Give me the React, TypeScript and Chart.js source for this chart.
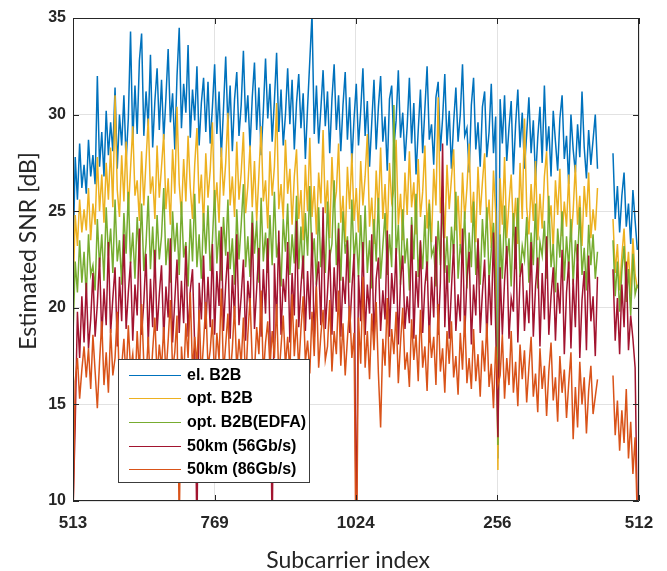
import React, { useEffect, useRef } from 'react';
import { Chart, registerables } from 'chart.js';

Chart.register(...registerables);

// x axis: positions of the tick marks along the plotted subcarrier order and their labels
const tickPositions = [0, 256, 511, 767, 1023];
const tickLabels = ['513', '769', '1024', '256', '512'];
const yTicks = [10, 15, 20, 25, 30, 35];
// one sample every 4 subcarriers along the plotted order
const sampleStep = 4;

const seriesNames = ['el. B2B', 'opt. B2B', 'opt. B2B(EDFA)', '50km (56Gb/s)', '50km (86Gb/s)'];
const seriesColors = ['#0072BD', '#EDB120', '#77AC30', '#A2142F', '#D95319'];

const elB2B = [
  22.3, 27.8, 25.6, 28.5, 26.2, 27.4, 25.9, 28.7, 26.8, 27.9, 26.4,
  32.0, 27.3, 29.1, 26.8, 30.2, 27.9, 29.6, 28.1, 31.4, 27.2, 30.0, 28.4, 31.0, 27.6, 29.8,
  34.3, 28.6, 31.5, 29.0, 32.8, 34.2, 28.9, 31.2, 29.4, 33.1, 28.3, 30.7, 32.4, 29.2, 31.8,
  28.7, 30.9, 33.4, 29.6, 31.1, 28.2, 32.0, 34.5, 29.3, 31.6, 30.1, 33.6, 28.8, 31.3, 29.7,
  32.5, 28.4, 30.6, 31.9, 29.1,
  31.7, 28.5, 30.4, 32.6, 29.0, 31.2, 27.8, 30.3, 33.0, 29.4, 31.5, 28.1, 30.8, 32.2, 28.9,
  30.5, 33.3, 29.6, 31.0, 28.3, 30.9, 32.7, 29.2, 31.4, 27.9, 30.2, 32.9, 29.8, 31.6, 28.6,
  30.7, 33.2, 29.1, 31.3, 28.4, 30.0, 32.4, 29.5, 31.8, 28.2, 30.6, 32.1, 29.3, 31.1, 27.7,
  30.4, 32.8, 35.2, 29.0, 31.5, 28.5, 30.3, 32.3, 29.4, 31.2, 28.0, 30.8, 32.6, 29.2, 31.0,
  28.1, 30.5, 32.2, 28.7, 30.9, 27.5, 29.8, 31.6, 28.4, 30.2, 32.4, 28.9, 30.7, 27.3, 29.6,
  31.8, 28.2, 30.4, 32.0, 28.6, 29.9, 27.1, 30.8, 31.5, 28.3, 29.7, 32.3, 28.8, 30.1, 27.6,
  29.4, 31.9, 28.5, 30.6, 26.9, 29.2, 31.3, 28.0, 30.3, 32.5, 28.7, 29.5, 27.4, 30.9, 31.7,
  28.1, 29.8, 32.1, 28.4, 30.2, 27.2, 29.6, 31.4, 28.6, 30.0, 32.6, 28.9, 29.3, 27.0, 30.5,
  31.9, 28.2, 29.6, 27.3, 30.4, 31.2, 27.8, 29.1, 31.6, 28.0, 29.9, 12.2, 30.8, 28.5, 31.0,
  27.6, 29.3, 30.7, 26.9, 29.5, 31.3, 28.3, 30.1, 27.2, 29.0, 30.9, 28.0, 29.7, 26.6, 28.8,
  30.4, 27.5, 31.5, 28.1, 29.4, 26.8, 30.2, 28.6, 27.1, 29.8, 31.0, 27.7, 28.9, 26.4, 30.0,
  28.2, 27.0, 29.5, 27.8, 31.2, 28.3, 26.7, 29.2, 27.4, 28.7, 30.0, 27.2,
  null, null, null, null, null, null,
  28.0, 24.6, 26.3, 23.9, 25.8, 27.0, 24.2, 25.4, 23.3, 26.1, 24.5, 23.0,
];

const optB2B = [
  20.5, 24.8, 23.2, 25.6, 23.9, 25.1, 24.0, 26.2, 23.5, 25.4, 24.3,
  27.8, 25.0, 26.9, 24.4, 27.5, 25.6, 28.3, 25.2, 31.0, 26.1, 24.7, 27.9, 25.5, 28.6, 24.9,
  27.2, 29.4, 25.8, 26.6, 24.5, 28.1, 25.3, 27.6, 29.8, 25.9, 26.8, 24.6, 28.4, 25.7, 27.3,
  29.0, 25.1, 26.7, 24.3, 28.2, 25.9, 30.4, 26.4, 24.8, 27.7, 25.5, 28.9, 26.2, 24.6, 27.4,
  29.3, 25.4, 26.9, 24.2, 28.0, 25.7, 27.1, 29.6, 25.0, 26.5, 24.4, 28.3, 25.8, 27.5, 30.1,
  25.3, 26.8, 24.7, 28.6, 25.6, 27.0, 29.1, 24.9, 26.3, 28.4, 25.2, 27.6, 24.5, 26.9, 29.4,
  25.5, 26.6, 24.1, 28.1, 25.8, 27.3, 30.6, 25.1, 26.4, 24.6, 28.7, 25.9, 27.2, 24.3, 26.8,
  28.2, 24.6, 26.1, 23.5, 27.4, 25.0, 28.8, 24.7, 26.3, 23.8, 27.0, 25.4, 29.2, 24.9, 26.6,
  23.6, 27.8, 25.2, 26.0, 28.5, 24.4, 25.8, 23.4, 27.3, 25.1, 28.0, 24.5, 26.2, 23.9, 27.6,
  25.3, 26.8, 29.0, 24.2, 25.7, 23.3, 27.1, 25.0, 28.3, 24.6, 26.4, 23.7, 27.5, 25.5, 26.1,
  28.7, 24.3, 25.9, 23.5, 27.0, 24.8, 28.1, 25.2, 26.5, 23.8, 27.7, 24.7, 26.0, 28.4, 24.1,
  25.6, 23.4, 27.2, 25.3, 30.9, 24.9, 26.3, 23.6, 27.4, 25.1, 26.7, 28.2, 24.0, 25.8, 23.2,
  27.0, 24.6, 26.2, 28.5, 24.4,
  26.0, 23.4, 27.3, 24.8, 26.5, 28.0, 24.2, 25.6, 23.1, 27.1, 24.9, 11.6, 26.7, 24.3, 27.8,
  23.6, 25.4, 26.9, 24.0, 25.7, 23.3, 27.5, 24.6, 29.8, 25.2, 23.8, 26.4, 24.5, 27.6, 23.5,
  25.9, 24.1, 26.8, 28.1, 24.4, 25.3, 23.0, 26.6, 24.8, 27.2, 23.7, 25.5, 24.2, 26.9, 23.4,
  25.0, 27.4, 24.3, 25.8, 23.2, 26.3, 24.7, 27.0, 23.6, 25.1, 24.0, 26.2,
  null, null, null, null, null, null,
  24.6, 21.8, 23.3, 20.9, 22.7, 24.1, 21.4, 22.9, 20.6, 23.6, 21.7, 21.0,
];

const optB2BEdfa = [
  18.5, 22.4, 20.8, 23.5, 21.3, 22.9, 20.6, 23.8, 21.7, 22.2, 20.9,
  24.6, 22.1, 23.8, 21.4, 25.2, 22.7, 24.1, 21.8, 25.6, 22.4, 23.5, 21.2, 24.9, 22.8, 26.0,
  22.3, 23.9, 21.5, 24.7, 22.6, 25.4, 21.9, 23.3, 25.8, 22.0, 24.2, 21.6, 24.8, 22.5, 23.7,
  26.2, 22.2, 23.6, 21.3, 25.0, 22.9, 24.4, 21.7, 25.5, 22.6, 23.4, 21.1, 24.6, 22.4, 25.9,
  22.1, 23.8, 21.5, 24.9, 22.8,
  25.3, 21.9, 23.5, 26.1, 22.3, 24.0, 21.4, 24.7, 22.7, 25.6, 22.0, 23.6, 21.2, 25.1, 22.5,
  24.3, 26.4, 22.1, 23.7, 21.6, 25.0, 22.8, 24.5, 21.3, 25.7, 22.4, 23.9, 21.8, 24.8, 22.2,
  26.0, 22.6, 23.4, 21.1, 24.6, 22.9, 25.4, 21.7, 23.8, 22.3, 25.8, 22.0, 24.2, 21.5, 24.9,
  22.7, 26.3, 22.4, 23.6, 21.2, 25.2, 22.1, 24.0, 21.8, 25.5, 22.6, 23.3, 26.6, 22.2, 24.4,
  21.4, 25.0, 22.8, 23.7, 21.3, 25.6, 22.5, 23.9, 21.6, 24.8,
  22.0, 25.3, 21.8, 23.5, 21.0, 24.6, 22.4, 25.7, 21.5, 23.2, 24.9, 21.7, 23.8, 22.1, 30.5,
  22.6, 24.3, 21.2, 25.1, 22.3, 23.6, 20.9, 24.7, 22.5, 25.9, 21.6, 23.4, 22.0, 24.8, 21.4,
  25.4, 22.7, 23.1, 21.1, 24.5, 22.2, 25.6, 21.8, 23.7, 21.3, 24.2, 22.8, 26.0, 21.5, 23.3,
  22.4, 25.0, 21.0, 23.9, 22.1, 25.5, 21.7, 23.5, 21.2, 24.6, 22.6, 25.2, 21.4, 23.0, 24.4,
  21.9, 12.9, 23.8, 21.5, 25.3, 22.3, 23.6, 21.1, 24.9, 22.0, 25.7, 21.6, 23.2, 22.5, 24.7,
  21.3, 23.9, 22.2, 25.4, 21.0, 23.4, 22.7, 24.5, 21.5, 25.8, 22.1, 23.3, 20.8, 24.1, 22.6,
  25.0, 21.4, 23.7, 22.0, 24.6, 21.2, 23.5, 22.4, 25.2, 21.7, 23.1, 20.9, 24.3, 22.2, 23.8,
  21.5, 22.9,
  null, null, null, null, null, null,
  23.5, 20.6, 22.4, 19.8, 21.9, 23.2, 20.3, 22.0, 19.6, 22.8, 20.7, 21.2,
];

const km50at56 = [
  9.5, 14.0, 19.8, 17.4, 20.6, 18.2, 21.3, 17.9, 19.4, 21.8, 18.5,
  20.2, 22.6, 18.4, 21.0, 19.1, 23.4, 18.7, 20.5, 22.1, 18.0, 21.6, 19.3, 23.8, 18.9, 20.8,
  22.4, 18.3, 21.2, 19.6, 24.1, 18.6, 20.3, 22.8, 18.1, 21.5, 19.0, 23.0, 18.8, 20.7, 22.2,
  18.4, 21.1, 19.5, 23.6, 18.2, 20.4, 22.5, 18.7, 21.4, 19.2, 23.2, 18.5, 20.9, 22.0, 18.0,
  8.0, 21.3, 19.4, 22.7, 18.9,
  21.6, 19.0, 23.3, 18.6, 21.9, 20.1, 24.2, 18.8, 21.2, 22.9, 18.4, 21.7, 19.5, 23.8, 19.1,
  20.6, 22.5, 18.3, 21.4, 20.0, 24.4, 18.9, 21.0, 23.1, 18.5, 22.0, 19.7, 23.6, 18.7, 8.0,
  22.3, 19.2, 24.0, 18.6, 21.5, 20.3, 23.4, 18.2, 21.8, 19.6, 24.5, 19.0, 21.1, 22.7, 18.8,
  21.9, 19.4, 23.9, 18.4, 21.3, 22.4, 19.1, 25.2, 18.9, 20.8, 23.0, 18.6, 22.1, 19.8, 24.1,
  18.5, 21.6, 20.2, 23.5, 18.7, 21.0, 22.8, 8.0, 21.7, 19.3,
  23.4, 18.6, 21.2, 19.7, 23.8, 18.3, 21.5, 22.6, 18.8, 20.9, 19.4, 24.0, 18.5, 21.8, 20.2,
  23.1, 18.1, 21.4, 22.7, 18.9, 20.6, 19.2, 24.3, 18.4, 21.9, 20.0, 23.5, 18.7, 21.1, 22.4,
  18.2, 21.6, 19.5, 23.7, 18.6, 21.3, 28.5, 19.0, 22.2, 18.4, 21.0, 23.3, 18.8, 20.7, 19.3,
  24.1, 18.5, 21.5, 22.9, 18.1, 21.2, 19.6, 23.6, 18.7, 20.8, 22.5, 18.3, 21.7, 19.1, 23.9,
  18.9, 13.3, 22.1, 18.6, 21.4, 23.2, 18.4, 20.5, 19.8, 24.2, 18.2, 21.6, 22.3, 18.8, 20.9,
  19.2, 23.4, 18.5, 21.1, 22.6, 18.0, 21.8, 19.4, 23.7, 18.6, 20.6, 22.1, 18.3, 21.3, 19.7,
  23.0, 17.6, 20.8, 22.4, 17.9, 21.5, 19.0, 23.3, 17.4, 20.4, 21.9, 17.8, 22.7, 19.3, 20.6,
  17.5, 21.6,
  null, null, null, null, null, null,
  22.0, 18.3, 20.5, 17.6, 21.2, 19.0, 22.4, 17.8, 19.6, 18.4, 16.9, 9.0,
];

const km50at86 = [
  9.0, 16.2, 17.4, 15.3, 16.8, 18.0,
  16.4, 17.9, 15.8, 18.6, 16.7, 14.8, 17.2, 19.3, 16.0, 17.7, 15.6, 18.9, 16.5, 17.4, 19.8,
  15.9, 17.0, 18.4, 16.2, 19.1, 16.8, 17.6, 15.7, 18.8, 16.6, 20.2, 17.1, 16.3, 18.5, 15.9,
  17.8, 19.5, 16.4, 18.1, 16.9,
  19.0, 16.5, 18.3, 20.4, 16.8, 17.7, 19.6, 8.5, 18.0, 16.3, 19.2, 17.4, 20.8, 16.7, 18.5,
  17.0, 19.9, 16.4, 18.2, 20.3, 16.9, 17.8, 19.4, 16.2, 18.7, 17.3, 21.0, 16.6, 18.1, 19.7,
  16.4, 17.9, 20.1, 16.8, 18.4, 17.1, 19.5, 16.0, 18.6, 20.5, 17.2, 16.7, 19.0, 17.6, 20.9,
  16.5, 18.2, 19.3, 16.9, 18.8, 17.4, 20.2, 16.3, 18.0, 19.6, 17.0, 18.5, 16.6, 20.7, 17.5,
  19.4, 16.8, 18.9, 20.6, 17.2, 18.3, 16.6, 19.8, 17.5, 21.1, 16.9, 18.6, 19.9, 17.3, 18.0,
  20.4, 16.7, 18.8, 17.6, 20.9, 17.0, 19.2, 16.5, 18.4, 20.1, 17.4, 18.7,
  5.0,
  19.5, 17.1, 21.6, 16.9, 18.8, 16.3, 19.7, 17.8, 20.3, 16.6, 13.8, 18.4, 17.0, 20.5, 16.4,
  18.9, 17.6, 19.8, 16.1, 18.2, 20.0, 16.8, 17.7, 15.9, 19.4, 17.3, 18.6, 16.2, 19.9, 16.9,
  18.0, 15.7, 19.1, 17.4, 18.5, 16.0, 20.2, 16.7, 17.9, 15.6, 18.8, 17.1, 19.3, 16.4, 17.5,
  15.5, 18.7, 16.8, 19.6, 16.1, 17.4, 15.8,
  18.9, 16.2, 17.6, 15.4, 18.3, 16.7, 19.2, 15.9, 17.1, 14.8, 18.0, 16.0, 16.5, 18.6, 15.3,
  17.4, 16.0, 18.8, 15.6, 17.2, 14.9, 18.1, 16.3, 17.8, 15.1, 16.9, 18.5, 15.4, 16.6, 14.6,
  17.9, 15.8, 17.0, 14.4, 16.7, 18.2, 15.2, 16.4, 14.1, 17.5, 15.6, 16.8, 14.3, 16.1, 17.7,
  13.2, 15.9, 13.8, 17.2, 15.0, 16.4, 13.5, 15.7, 17.0, 14.5, 15.4, 16.3,
  null, null, null, null, null, null,
  16.5, 13.4, 15.2, 12.6, 14.7, 13.0, 15.8, 12.2, 14.1, 11.4, 13.3, 9.0,
];

const allSeries = [elB2B, optB2B, optB2BEdfa, km50at56, km50at86];

const TICK_FONT = "'Liberation Sans', Arial, sans-serif";
const TITLE_FONT = "Lato, 'Noto Sans', sans-serif";
const AXIS_COLOR = '#262626';

const framePlugin = {
  id: 'matlabFrame',
  afterDatasetsDraw(chart: any) {
    const { ctx, chartArea } = chart;
    const { left, right, top, bottom } = chartArea;
    const xs = chart.scales.x;
    const ys = chart.scales.y;
    ctx.save();
    ctx.strokeStyle = AXIS_COLOR;
    ctx.lineWidth = 1;
    ctx.beginPath();
    ctx.rect(left + 0.5, top + 0.5, right - left - 1, bottom - top - 1);
    ctx.stroke();
    const tl = 6;
    ctx.beginPath();
    tickPositions.forEach((p) => {
      const x = Math.round(xs.getPixelForValue(p)) + 0.5;
      ctx.moveTo(x, bottom);
      ctx.lineTo(x, bottom - tl);
      ctx.moveTo(x, top);
      ctx.lineTo(x, top + tl);
    });
    yTicks.forEach((v) => {
      const y = Math.round(ys.getPixelForValue(v)) + 0.5;
      ctx.moveTo(left, y);
      ctx.lineTo(left + tl, y);
      ctx.moveTo(right, y);
      ctx.lineTo(right - tl, y);
    });
    ctx.stroke();
    ctx.restore();
  },
  afterDraw(chart: any) {
    const { ctx } = chart;
    ctx.save();
    // axis titles
    ctx.fillStyle = AXIS_COLOR;
    ctx.font = `23px ${TITLE_FONT}`;
    ctx.textAlign = 'center';
    ctx.textBaseline = 'alphabetic';
    ctx.fillText('Subcarrier index', 348, 568);
    ctx.save();
    ctx.translate(36, 251);
    ctx.rotate(-Math.PI / 2);
    ctx.fillText('Estimated SNR [dB]', 0, 0);
    ctx.restore();

    // legend
    const bx = 118, by = 359, bw = 192, bh = 124;
    ctx.fillStyle = '#ffffff';
    ctx.fillRect(bx, by, bw, bh);
    ctx.strokeStyle = '#3c3c3c';
    ctx.lineWidth = 1;
    ctx.strokeRect(bx + 0.5, by + 0.5, bw - 1, bh - 1);
    const rows = [375, 398, 422, 446, 469];
    ctx.font = `bold 16px ${TICK_FONT}`;
    ctx.textAlign = 'left';
    ctx.textBaseline = 'middle';
    seriesNames.forEach((name, i) => {
      const y = rows[i] + 0.5;
      ctx.strokeStyle = seriesColors[i];
      ctx.beginPath();
      ctx.moveTo(129, y);
      ctx.lineTo(181, y);
      ctx.stroke();
      ctx.fillStyle = '#000000';
      ctx.fillText(name, 187, rows[i] + 1);
    });
    ctx.restore();
  },
};

export default function App() {
  const ref = useRef<HTMLCanvasElement | null>(null);
  useEffect(() => {
    if (!ref.current) return;
    const datasets = allSeries.map((vals, si) => ({
      label: seriesNames[si],
      data: vals.map((v, i) => ({ x: i * sampleStep, y: v })),
      borderColor: seriesColors[si],
      backgroundColor: seriesColors[si],
      borderWidth: 1.5,
      pointRadius: 0,
      tension: 0,
      spanGaps: false,
      order: allSeries.length - si,
    }));
    const chart = new Chart(ref.current, {
      type: 'line',
      data: { datasets },
      options: {
        animation: false,
        responsive: false,
        maintainAspectRatio: false,
        layout: { padding: { left: 0, top: 18, right: 28, bottom: 0 } },
        plugins: { legend: { display: false }, tooltip: { enabled: false } },
        scales: {
          x: {
            type: 'linear',
            min: 0,
            max: 1023,
            afterBuildTicks: (s: any) => {
              s.ticks = tickPositions.map((v) => ({ value: v }));
            },
            afterFit: (s: any) => {
              s.height = 70;
            },
            ticks: {
              autoSkip: false,
              maxRotation: 0,
              padding: 12,
              color: AXIS_COLOR,
              font: { family: TICK_FONT, size: 17, weight: 'bold' },
              callback: (_v: any, idx: number) => tickLabels[idx],
            },
            grid: { color: '#e2e2e2', lineWidth: 1, drawTicks: false },
            border: { display: false },
          },
          y: {
            type: 'linear',
            min: 10,
            max: 35,
            afterBuildTicks: (s: any) => {
              s.ticks = yTicks.map((v) => ({ value: v }));
            },
            afterFit: (s: any) => {
              s.width = 73;
            },
            ticks: {
              padding: 7,
              color: AXIS_COLOR,
              font: { family: TICK_FONT, size: 16, weight: 'bold' },
            },
            grid: { color: '#e2e2e2', lineWidth: 1, drawTicks: false },
            border: { display: false },
          },
        },
      },
      plugins: [framePlugin],
    });
    return () => chart.destroy();
  }, []);
  return (
    <div style={{ position: 'absolute', left: 0, top: 0, width: 667, height: 571, background: '#fff' }}>
      <canvas ref={ref} width={667} height={571} style={{ display: 'block' }} />
    </div>
  );
}
